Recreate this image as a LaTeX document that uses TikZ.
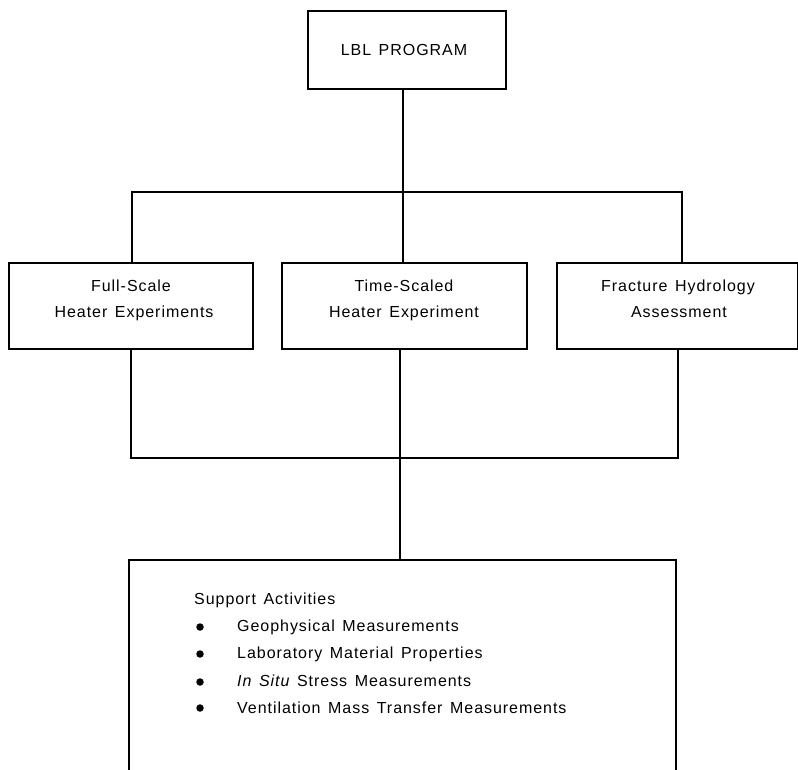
\documentclass[tikz,border=0pt]{standalone}
\usepackage{fontspec}
\setmainfont{Liberation Sans}[LetterSpace=6,WordSpace=1.4]
\begin{document}
\begin{tikzpicture}[x=1pt,y=-1pt,
  box/.style={draw, line width=1.8pt, rectangle, inner sep=0pt, anchor=north west},
  txt/.style={font=\fontsize{16}{26}\selectfont, inner sep=0pt, anchor=base},
  ltxt/.style={font=\fontsize{16}{26}\selectfont, inner sep=0pt, anchor=base west},
  conn/.style={line width=1.8pt},
  dotb/.style={circle, fill, inner sep=0pt, minimum size=7.5pt}]
\useasboundingbox (0,0) rectangle (798,769);
\clip (0,0) rectangle (798,769);

% boxes
\node[box, minimum width=198pt, minimum height=78pt] (lbl) at (307,10) {};
\node[box, minimum width=244pt, minimum height=86pt] (fs) at (8,262) {};
\node[box, minimum width=245pt, minimum height=86pt] (ts) at (281,262) {};
\node[box, minimum width=241pt, minimum height=86pt] (fh) at (556,262) {};
\node[box, minimum width=547pt, minimum height=240pt] (sa) at (128,559) {};

% texts
\node[txt] (lblt) at (404,55) {LBL PROGRAM};
\node[txt] (fs1) at (131,291) {Full-Scale};
\node[txt] (fs2) at (134,317) {Heater Experiments};
\node[txt] (ts1) at (404,291) {Time-Scaled};
\node[txt] (ts2) at (404,317) {Heater Experiment};
\node[txt] (fh1) at (678,291) {Fracture Hydrology};
\node[txt] (fh2) at (679,317) {Assessment};

\node[ltxt] (sah) at (194,604) {Support Activities};
\node[dotb] (b1) at (200,627) {};
\node[dotb] (b2) at (200,654) {};
\node[dotb] (b3) at (200,682) {};
\node[dotb] (b4) at (200,708) {};
\node[ltxt] (i1) at (237,631) {Geophysical Measurements};
\node[ltxt] (i2) at (237,658) {Laboratory Material Properties};
\node[ltxt] (i3) at (237,686) {\itshape In Situ\upshape\ Stress Measurements};
\node[ltxt] (i4) at (237,713) {Ventilation Mass Transfer Measurements};

% connectors
\coordinate (u1m) at (403,192);
\coordinate (u1l) at (132,192);
\coordinate (u1r) at (682,192);
\draw[conn] (lbl.south -| u1m) -- (u1m);
\draw[conn] (u1l |- fs.north) -- (u1l) -- (u1r) -- (u1r |- fh.north);
\draw[conn] (u1m) -- (u1m |- ts.north);

\coordinate (u2m) at (400,458);
\coordinate (u2l) at (131,458);
\coordinate (u2r) at (678,458);
\draw[conn] (u2l |- fs.south) -- (u2l) -- (u2r) -- (u2r |- fh.south);
\draw[conn] (u2m |- ts.south) -- (u2m |- sa.north);
\end{tikzpicture}
\end{document}
